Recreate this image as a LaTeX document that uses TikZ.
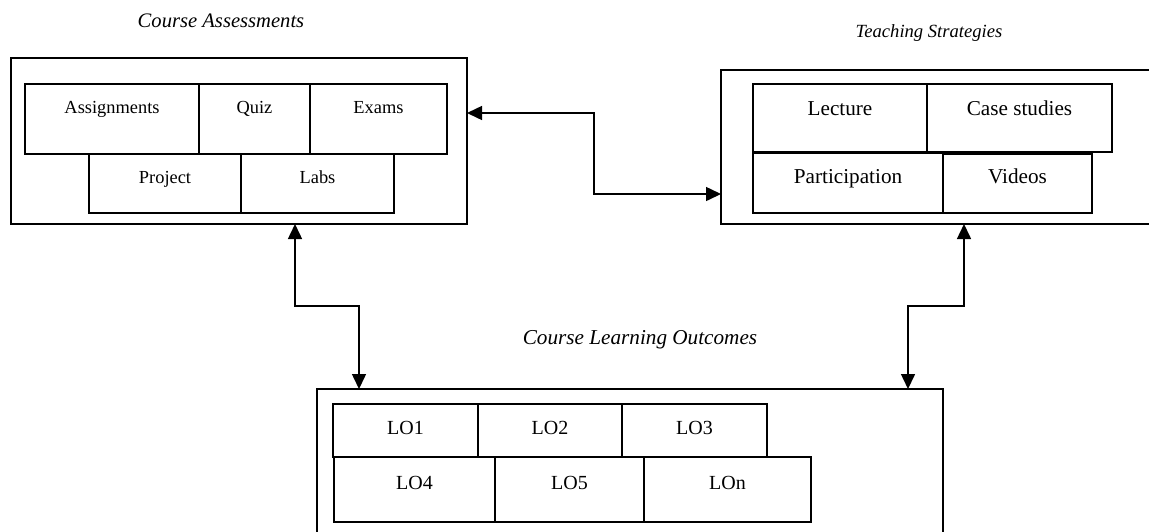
\documentclass[tikz,border=0pt]{standalone}
\usepackage{fontspec}
\setmainfont{Liberation Serif}
\usetikzlibrary{arrows.meta}
\begin{document}
\begin{tikzpicture}[x=0.5pt,y=-0.5pt,
  outerbox/.style={draw, line width=1pt, inner sep=0pt, outer sep=0pt, anchor=north west},
  cell/.style={draw, line width=0.75pt, inner xsep=0pt, inner ysep=0pt, outer sep=0pt, anchor=north west},
  lcell/.style={cell, font=\fontsize{9.2}{11}\selectfont},
  rcell/.style={cell, font=\fontsize{10.6}{12}\selectfont},
  bcell/.style={cell, font=\fontsize{10}{12}\selectfont},
  titletext/.style={font=\itshape},
  arr/.style={{Triangle[length=7.5pt,width=7pt]}-{Triangle[length=7.5pt,width=7pt]}, line width=0.75pt}
]
\useasboundingbox (0,0) rectangle (1149,531);
\clip (0,0) rectangle (1149,531);
\fill[white] (0,0) rectangle (1149,531);

% titles
\node[titletext, font=\fontsize{10.3}{12}\selectfont\itshape] (t1) at (221,21) {Course Assessments};
\node[titletext, font=\fontsize{9.3}{11}\selectfont\itshape] (t2) at (929,33) {Teaching Strategies};
\node[titletext, font=\fontsize{10.6}{12}\selectfont\itshape] (t3) at (640,340) {Course Learning Outcomes};

% outer boxes
\node[outerbox, minimum width=228pt, minimum height=83pt] (ca) at (11,58) {};
\node[outerbox, minimum width=224.5pt, minimum height=77pt] (ts) at (721,70) {};
\node[outerbox, minimum width=313pt, minimum height=85.5pt] (lo) at (317,389) {};

% course assessments cells
\node[lcell, minimum width=87pt, text height=14.5pt, text depth=20.5pt] (asg) at (25,84) {Assignments};
\node[lcell, minimum width=55.5pt, text height=14.5pt, text depth=20.5pt] (quiz) at (199,84) {Quiz};
\node[lcell, minimum width=68.5pt, text height=14.5pt, text depth=20.5pt] (exams) at (310,84) {Exams};
\node[lcell, minimum width=76pt, text height=14.5pt, text depth=15pt] (proj) at (89,154) {Project};
\node[lcell, minimum width=76.5pt, text height=14.5pt, text depth=15pt] (labs) at (241,154) {Labs};

% teaching strategies cells
\node[rcell, minimum width=87pt, text height=15.5pt, text depth=18.5pt] (lect) at (753,84) {Lecture};
\node[rcell, minimum width=92.5pt, text height=15.5pt, text depth=18.5pt] (case) at (927,84) {Case studies};
\node[rcell, minimum width=95pt, text height=15.2pt, text depth=14.8pt] (part) at (753,153) {Participation};
\node[rcell, minimum width=74.5pt, text height=14.7pt, text depth=14.8pt] (vid) at (943,154) {Videos};

% learning outcomes cells
\node[bcell, minimum width=72.5pt, text height=15.2pt, text depth=11.3pt] (lo1) at (333,404) {LO1};
\node[bcell, minimum width=72pt, text height=15.2pt, text depth=11.3pt] (lo2) at (478,404) {LO2};
\node[bcell, minimum width=72.5pt, text height=15.2pt, text depth=11.3pt] (lo3) at (622,404) {LO3};
\node[bcell, minimum width=80.5pt, text height=16.2pt, text depth=16.3pt] (lo4) at (334,457) {LO4};
\node[bcell, minimum width=74.5pt, text height=16.2pt, text depth=16.3pt] (lo5) at (495,457) {LO5};
\node[bcell, minimum width=83.5pt, text height=16.2pt, text depth=16.3pt] (lon) at (644,457) {LOn};

% connectors
\draw[arr] ([yshift=14pt]ca.east) -- ++(63.5pt,0) |- ([yshift=-23.5pt]ts.west);
\draw[arr] ([xshift=28pt]ca.south) -- ++(0,-41pt) -| ([xshift=-135.5pt]lo.north);
\draw[arr] ([xshift=9.25pt]ts.south) -- ++(0,-41pt) -| ([xshift=139pt]lo.north);
\end{tikzpicture}
\end{document}
